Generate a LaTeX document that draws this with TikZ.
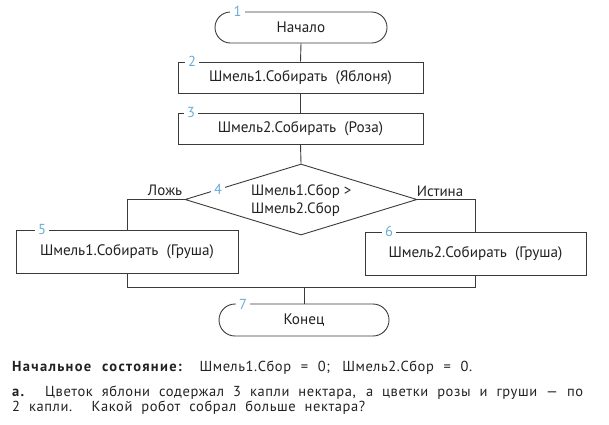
\documentclass[tikz,border=0pt]{standalone}
\usepackage{fontspec}
\setmainfont{PT Sans}
\newfontfamily\parafont[LetterSpace=4, BoldFeatures={LetterSpace=9}]{PT Sans}
\usetikzlibrary{shapes.geometric,shapes.misc}
\definecolor{ln}{HTML}{3A3A3A}
\definecolor{numc}{HTML}{6AAED6}
\definecolor{txt}{HTML}{222222}
\tikzset{
  boxst/.style={draw=ln, line width=0.9pt, rectangle, inner sep=0pt, font=\fontsize{15.2}{17}\selectfont, text=txt},
  termst/.style={draw=ln, line width=0.9pt, rounded rectangle, inner sep=0pt, font=\fontsize{15.2}{17}\selectfont, text=txt},
  conn/.style={draw=ln, line width=0.9pt},
  numst/.style={fill=white, text=numc, inner xsep=3.5pt, inner ysep=1.5pt, font=\fontsize{14.5}{16}\selectfont},
  lbl/.style={text=txt, inner sep=0pt, font=\fontsize{15}{18}\selectfont},
  para/.style={text=txt, inner sep=0pt, anchor=base west, font=\parafont\fontsize{14.5}{16}\selectfont}
}
\begin{document}
\begin{tikzpicture}[x=1pt,y=-1pt]
\useasboundingbox (0,0) rectangle (609,424);
% shapes
\node[termst, minimum width=172pt, minimum height=31pt] (t1) at (301,27.5) {Начало};
\node[boxst, minimum width=245pt, minimum height=31pt] (b2) at (300.5,77.5) {Шмель1.Собирать\ \ (Яблоня)};
\node[boxst, minimum width=245pt, minimum height=31pt] (b3) at (300.5,128.5) {Шмель2.Собирать\ \ (Роза)};
\node[diamond, draw=ln, line width=0.9pt, minimum width=232pt, minimum height=71pt, inner sep=0pt] (d4) at (301,199.5) {};
\node[lbl, align=left, anchor=west] (d4t) at (251,201) {Шмель1.Сбор >\\Шмель2.Сбор};
\node[boxst, minimum width=222pt, minimum height=43pt] (b5) at (127,251.5) {Шмель1.Собирать\ \ (Груша)};
\node[boxst, minimum width=221pt, minimum height=43pt] (b6) at (475.5,253.5) {Шмель2.Собирать\ \ (Груша)};
\node[termst, minimum width=170pt, minimum height=32pt] (t7) at (304,320) {Конец};
% connectors
\draw[conn] (t1.south) -- (b2.north);
\draw[conn] (b2.south) -- (b3.north);
\draw[conn] (b3.south) -- (d4.north);
\draw[conn] (d4.west) -| (b5.north);
\draw[conn] (d4.east) -| (b6.north);
\coordinate (mL) at (b5.south |- 0,287);
\coordinate (mR) at (b6.south |- 0,287);
\coordinate (mC) at (t7.north |- 0,287);
\draw[conn] (b5.south) -- (mL) -- (mR) -- (b6.south);
\draw[conn] (mC) -- (t7.north);
% labels
\node[lbl] (lf) at (165,190) {Ложь};
\node[lbl] (lt) at (440,191) {Истина};
% numbers
\node[numst] (n1) at (237.5,11.5) {1};
\node[numst] (n2) at (192,61.5) {2};
\node[numst] (n3) at (191,112.5) {3};
\node[numst] (n4) at (218,189.5) {4};
\node[numst] (n5) at (42,229.5) {5};
\node[numst] (n6) at (389,231.5) {6};
\node[numst] (n7) at (243,304) {7};
% text below
\node[para] (p1) at (12,371) {\makebox[460pt][s]{\textbf{Начальное состояние:} Шмель1.Сбор = 0; Шмель2.Сбор = 0.}};
\node[para] (p2) at (12,396) {\makebox[571pt][s]{\textbf{а.} Цветок яблони содержал 3 капли нектара, а цветки розы и груши — по}};
\node[para] (p3) at (12,411.5) {\makebox[353pt][s]{2 капли. Какой робот собрал больше нектара?}};
\end{tikzpicture}
\end{document}
